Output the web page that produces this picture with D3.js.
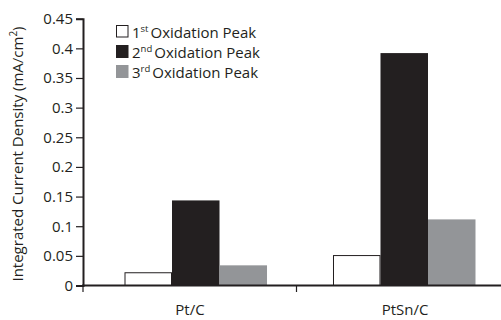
<!DOCTYPE html>
<html>
<head>
<meta charset="utf-8">
<script src="https://cdn.jsdelivr.net/npm/d3@7"></script>
<style>
  body { margin: 0; background: #fff; }
  svg text { font-family: 'Open Sans', sans-serif; fill: #231f20; }
</style>
</head>
<body>
<svg id="chart" width="501" height="320"></svg>
<script>
// data
var categories = ['Pt/C', 'PtSn/C']
var series = ['1st', '2nd', '3rd']
var seriesSup = ['st', 'nd', 'rd']
var seriesNum = ['1', '2', '3']
var peak1 = [0.0215, 0.0505]
var peak2 = [0.1435, 0.392]
var peak3 = [0.034, 0.1115]
var yTicks = [0, 0.05, 0.1, 0.15, 0.2, 0.25, 0.3, 0.35, 0.4, 0.45]
var yTickLabels = ['0', '0.05', '0.1', '0.15', '0.2', '0.25', '0.3', '0.35', '0.4', '0.45']

var ink = '#231f20'
var fills = ['#ffffff', '#231f20', '#939598']
var values = [peak1, peak2, peak3]

var svg = d3.select('#chart')
var x0 = 83, y0 = 285.5

var y = d3.scaleLinear().domain([0, 0.45]).range([y0, 18.7])
var x = d3.scaleBand().domain(categories).range([91.5, 508.5]).paddingInner(0.3165).paddingOuter(0.1583)
var xs = d3.scaleBand().domain(series).range([0, x.bandwidth()])

// bars
var rows = categories.map(function (c, i) {
  return { cat: c, vals: series.map(function (s, j) { return { s: s, v: values[j][i], j: j } }) }
})
var g = svg.selectAll('g.grp').data(rows).enter().append('g')
  .attr('class', 'grp')
  .attr('transform', function (d) { return 'translate(' + x(d.cat) + ',0)' })
g.selectAll('rect').data(function (d) { return d.vals }).enter().append('rect')
  .attr('x', function (d) { return xs(d.s) + (d.j === 0 ? 0.5 : 0) })
  .attr('y', function (d) { return y(d.v) })
  .attr('width', function (d) { return xs.bandwidth() - (d.j === 0 ? 1 : 0) })
  .attr('height', function (d) { return y0 - y(d.v) })
  .attr('fill', function (d) { return fills[d.j] })
  .attr('stroke', function (d) { return d.j === 0 ? ink : 'none' })
  .attr('stroke-width', 1)

// y axis
var yAxis = d3.axisLeft(y).tickValues(yTicks)
  .tickFormat(function (d, i) { return yTickLabels[i] })
  .tickSize(7).tickPadding(3)
var ya = svg.append('g').attr('transform', 'translate(' + x0 + ',0)').call(yAxis)
ya.select('.domain').attr('stroke', ink).attr('stroke-width', 2)
ya.selectAll('.tick line').attr('stroke', ink).attr('stroke-width', 1.2)
ya.selectAll('.tick text').style('font-size', '15px').attr('fill', ink)

// x axis
svg.append('line').attr('x1', x0 - 1).attr('x2', 501).attr('y1', y0).attr('y2', y0)
  .attr('stroke', ink).attr('stroke-width', 2)
var bounds = [x0, (x(categories[0]) + x.bandwidth() + x(categories[1])) / 2 - 3.5]
svg.selectAll('line.xt').data(bounds).enter().append('line')
  .attr('class', 'xt')
  .attr('x1', function (d) { return d }).attr('x2', function (d) { return d })
  .attr('y1', y0).attr('y2', y0 + 6.5)
  .attr('stroke', ink).attr('stroke-width', 1.2)
var labelX = [190, 405]
svg.selectAll('text.cat').data(categories).enter().append('text')
  .attr('class', 'cat')
  .attr('x', function (d, i) { return labelX[i] })
  .attr('y', 315)
  .attr('text-anchor', 'middle')
  .style('font-size', '15px')
  .text(function (d) { return d })

// y label
var yl = svg.append('text')
  .attr('transform', 'translate(23,154) rotate(-90)')
  .attr('text-anchor', 'middle')
  .style('font-size', '15px')
yl.append('tspan').text('Integrated Current Density (mA/cm')
yl.append('tspan').attr('dy', -6).style('font-size', '10px').text('2')
yl.append('tspan').attr('dy', 6).text(')')

// legend
var leg = svg.selectAll('g.leg').data(series).enter().append('g')
  .attr('class', 'leg')
  .attr('transform', function (d, i) { return 'translate(116,' + (25 + i * 20) + ')' })
leg.append('rect')
  .attr('x', function (d, i) { return i === 0 ? 0.5 : 0 })
  .attr('y', function (d, i) { return i === 0 ? 0.5 : 0 })
  .attr('width', function (d, i) { return i === 0 ? 11.5 : 12.5 })
  .attr('height', function (d, i) { return i === 0 ? 11.5 : 13 })
  .attr('fill', function (d, i) { return fills[i] })
  .attr('stroke', function (d, i) { return i === 0 ? ink : 'none' })
var lt = leg.append('text').attr('x', 16).attr('y', 12.5).style('font-size', '15px')
lt.append('tspan').text(function (d, i) { return seriesNum[i] })
lt.append('tspan').attr('dy', -6).style('font-size', '9.5px').text(function (d, i) { return seriesSup[i] })
lt.append('tspan').attr('dy', 6).attr('dx', 2).text('Oxidation Peak')
</script>
</body>
</html>
